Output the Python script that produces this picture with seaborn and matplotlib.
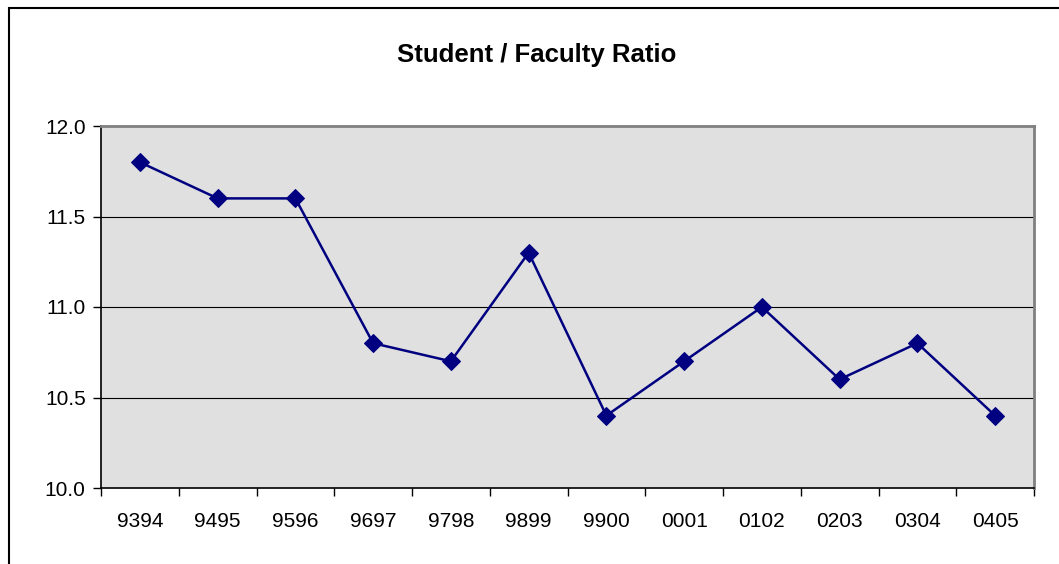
import matplotlib
matplotlib.use('Agg')
import matplotlib.pyplot as plt
import seaborn as sns
import numpy as np
import pandas as pd
from matplotlib.patches import Rectangle

# Data
years = ['9394', '9495', '9596', '9697', '9798', '9899', '9900', '0001', '0102', '0203', '0304', '0405']
ratio = [11.8, 11.6, 11.6, 10.8, 10.7, 11.3, 10.4, 10.7, 11.0, 10.6, 10.8, 10.4]

df = pd.DataFrame({'pos': np.arange(len(years)), 'ratio': ratio})

sns.set_style('white')
plt.rcParams['font.family'] = ['Liberation Sans', 'DejaVu Sans']
plt.rcParams['text.color'] = 'black'
plt.rcParams['xtick.color'] = 'black'
plt.rcParams['ytick.color'] = 'black'
plt.rcParams['xtick.labelcolor'] = 'black'
plt.rcParams['ytick.labelcolor'] = 'black'

fig = plt.figure(figsize=(10.59, 5.64), dpi=100)
ax = fig.add_axes([101/1059, 1-488/564, (1034-101)/1059, (488-126)/564])
ax.set_facecolor('#E0E0E0')

# grid lines (Excel style, black)
for v in [10.5, 11.0, 11.5]:
    ax.axhline(v, color='black', lw=0.8, zorder=1)

sns.lineplot(data=df, x='pos', y='ratio', ax=ax, color='#000080', lw=1.8,
             marker='D', markersize=9, markeredgecolor='#000080', zorder=3)

ax.set_xlim(-0.5, len(years) - 0.5)
ax.set_ylim(10.0, 12.0)
ax.set_yticks([10.0, 10.5, 11.0, 11.5, 12.0])
ax.set_yticklabels(['%.1f' % v for v in [10.0, 10.5, 11.0, 11.5, 12.0]], fontsize=15)

# boundary ticks, labels centered in categories
ax.set_xticks(np.arange(-0.5, len(years), 1.0))
ax.set_xticklabels([])
ax.set_xticks(np.arange(len(years)), minor=True)
ax.set_xticklabels(years, minor=True, fontsize=15)
ax.tick_params(axis='x', which='major', bottom=True, direction='out', length=6, width=1, color='black')
ax.tick_params(axis='x', which='minor', bottom=False, length=0, pad=17)
ax.tick_params(axis='y', left=True, direction='out', length=6, width=1, color='black', pad=5)
ax.set_xlabel('')
ax.set_ylabel('')

for s in ['top', 'right']:
    ax.spines[s].set_color('#808080')
    ax.spines[s].set_linewidth(2)
for s in ['left', 'bottom']:
    ax.spines[s].set_color('black')
    ax.spines[s].set_linewidth(1.2)

fig.text(537/1059, 1-55/564, 'Student / Faculty Ratio', ha='center', va='center',
         fontsize=18.5, fontweight='bold', color='black')

# outer chart border
fig.patches.append(Rectangle((9/1059, -0.1), 1.2, 1 - 8/564 + 0.1, transform=fig.transFigure,
                             fill=False, edgecolor='black', lw=1.5, zorder=0))

fig.savefig('out.png', dpi=100)
